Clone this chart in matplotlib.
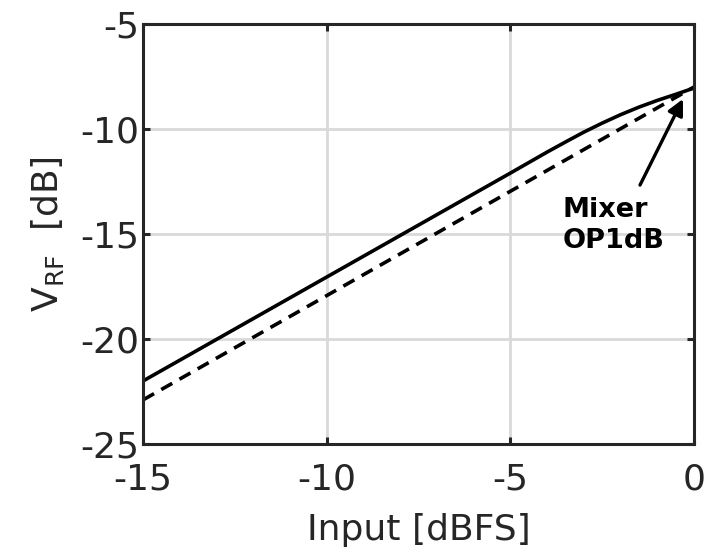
import matplotlib
matplotlib.use('Agg')
import matplotlib.pyplot as plt

# solid curve: simulated V_RF vs input level (with compression near 0 dBFS)
input_dbfs = [-15, -10, -5, -4, -3.5, -3, -2.5, -2, -1.5, -1, -0.5, 0]
vrf_db = [-22.0, -17.05, -12.1, -11.1, -10.62, -10.15, -9.72, -9.32, -8.96, -8.64, -8.35, -8.05]

# dashed: linear (ideal) reference
ideal_x = [-15, 0]
ideal_y = [-22.9, -8.0]

xticks = [-15, -10, -5, 0]
yticks = [-25, -20, -15, -10, -5]

dark = '#262626'
plt.rcParams['font.family'] = 'DejaVu Sans'
plt.rcParams['axes.unicode_minus'] = False

fig = plt.figure(figsize=(7.07, 5.53), dpi=100)
ax = fig.add_axes([0.2023, 0.1971, 0.7793, 0.7595])

ax.plot(input_dbfs, vrf_db, color='black', lw=2.6, solid_capstyle='butt')
ax.plot(ideal_x, ideal_y, color='black', lw=2.6, dashes=(3.5, 2.3))

ax.set_xlim(-15, 0)
ax.set_ylim(-25, -5)
ax.set_xticks(xticks)
ax.set_yticks(yticks)
ax.grid(True, color='#d9d9d9', lw=2)
ax.set_axisbelow(True)

for s in ax.spines.values():
    s.set_linewidth(2.2)
    s.set_color(dark)
ax.tick_params(direction='in', length=5, width=2.2, color=dark,
               labelsize=26, labelcolor=dark, top=True, right=True)
ax.tick_params(axis='x', pad=13)
ax.tick_params(axis='y', pad=3)

ax.set_xlabel('Input [dBFS]', fontsize=26, color=dark, labelpad=12)
ax.set_ylabel(r'$\mathregular{V_{RF}}$  [dB]', fontsize=26, color=dark, labelpad=10)

# arrow + label for mixer output 1 dB compression point
ax.annotate('', xy=(-0.3, -8.57), xytext=(-1.47, -12.67),
            arrowprops=dict(arrowstyle='-|>', color='black', lw=2.4,
                            mutation_scale=24, shrinkA=0, shrinkB=0))
ax.text(-3.59, -13.24, 'Mixer\nOP1dB', fontsize=19.5, fontweight='bold',
        ha='left', va='top', linespacing=1.25, color='black')

fig.savefig('out.png', dpi=100)
